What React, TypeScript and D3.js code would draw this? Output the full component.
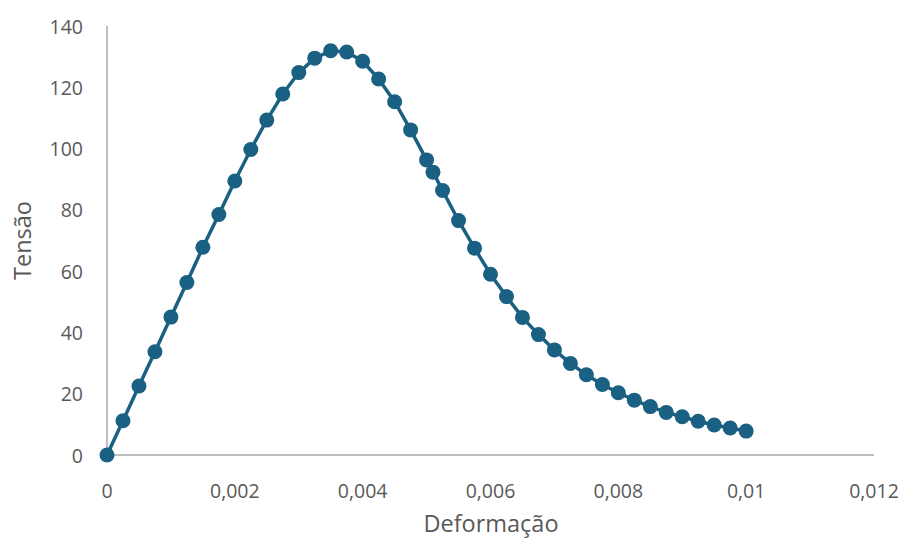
import React from "react";
import * as d3 from "d3";

const strain: number[] = [
  0, 0.00025, 0.0005, 0.00075, 0.001, 0.00125, 0.0015, 0.00175, 0.002, 0.00225,
  0.0025, 0.00275, 0.003, 0.00325, 0.0035, 0.00375, 0.004, 0.00425, 0.0045, 0.00475,
  0.005, 0.0051, 0.00525, 0.0055, 0.00575, 0.006, 0.00625, 0.0065, 0.00675, 0.007,
  0.00725, 0.0075, 0.00775, 0.008, 0.00825, 0.0085, 0.00875, 0.009, 0.00925, 0.0095,
  0.00975, 0.01,
];
const stress: number[] = [
  0, 11.2, 22.5, 33.7, 45.0, 56.3, 67.8, 78.5, 89.4, 99.7,
  109.3, 117.8, 124.8, 129.5, 131.9, 131.5, 128.5, 122.7, 115.3, 106.1,
  96.3, 92.3, 86.3, 76.5, 67.5, 59.0, 51.7, 44.9, 39.3, 34.3,
  29.9, 26.2, 23.0, 20.3, 17.9, 15.8, 13.9, 12.5, 11.0, 9.8,
  8.8, 7.8,
];
const xTicks: number[] = [0, 0.002, 0.004, 0.006, 0.008, 0.01, 0.012];
const yTicks: number[] = [0, 20, 40, 60, 80, 100, 120, 140];
const xTitle = "Deformação";
const yTitle = "Tensão";

const W = 910;
const H = 541;
const FONT = "'Open Sans', 'Noto Sans', sans-serif";
const TEXT = "#595959";
const AXIS = "#bfbfbf";
const SERIES = "#1a6082";

export default function App() {
  const x = d3.scaleLinear().domain([0, 0.012]).range([107, 874]);
  const y = d3.scaleLinear().domain([0, 140]).range([455, 26]);
  const pts = strain.map((s, i) => [s, stress[i]] as [number, number]);
  const line = d3
    .line<[number, number]>()
    .x((d) => x(d[0]))
    .y((d) => y(d[1]));
  const fmt = (v: number) => String(+v.toFixed(4)).replace(".", ",");

  return (
    <svg
      width={W}
      height={H}
      style={{ position: "absolute", left: 0, top: 0, background: "#fff" }}
      fontFamily={FONT}
    >
      <line x1={x(0)} x2={x(0)} y1={y(140)} y2={y(0)} stroke={AXIS} strokeWidth={2} />
      <line x1={x(0)} x2={x(0.012)} y1={y(0)} y2={y(0)} stroke={AXIS} strokeWidth={2} />
      {yTicks.map((t) => (
        <text
          key={"y" + t}
          x={83}
          y={y(t)}
          textAnchor="end"
          dominantBaseline="central"
          fontSize={19.5}
          fill={TEXT}
        >
          {t}
        </text>
      ))}
      {xTicks.map((t) => (
        <text
          key={"x" + t}
          x={x(t)}
          y={490}
          textAnchor="middle"
          dominantBaseline="central"
          fontSize={19.5}
          fill={TEXT}
        >
          {fmt(t)}
        </text>
      ))}
      <text
        x={491}
        y={523}
        textAnchor="middle"
        dominantBaseline="central"
        fontSize={23.5}
        fill={TEXT}
      >
        {xTitle}
      </text>
      <text
        transform={`translate(22,${(y(0) + y(140)) / 2}) rotate(-90)`}
        textAnchor="middle"
        dominantBaseline="central"
        fontSize={23.5}
        fill={TEXT}
      >
        {yTitle}
      </text>
      <path d={line(pts) || ""} fill="none" stroke={SERIES} strokeWidth={3.5} />
      {pts.map((d, i) => (
        <circle key={i} cx={x(d[0])} cy={y(d[1])} r={7.5} fill={SERIES} />
      ))}
    </svg>
  );
}
